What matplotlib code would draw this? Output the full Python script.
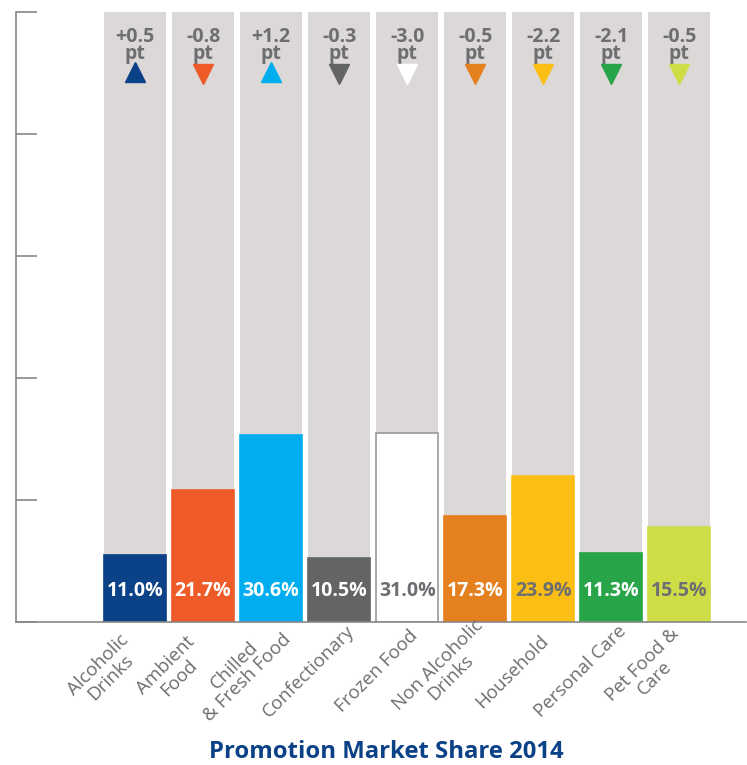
import matplotlib
matplotlib.use("Agg")
import matplotlib.pyplot as plt
import matplotlib.transforms as mtransforms

plt.rcParams['font.family'] = ['Open Sans', 'DejaVu Sans']

categories = ["Alcoholic\nDrinks", "Ambient\nFood", "Chilled\n& Fresh Food", "Confectionary",
              "Frozen Food", "Non Alcoholic\nDrinks", "Household", "Personal Care", "Pet Food &\nCare"]
shares = [11.0, 21.7, 30.6, 10.5, 31.0, 17.3, 23.9, 11.3, 15.5]
changes = [0.5, -0.8, 1.2, -0.3, -3.0, -0.5, -2.2, -2.1, -0.5]
bar_colors = ["#0b4187", "#ee5a28", "#00aeef", "#636466", "#ffffff",
              "#e5801f", "#fbbe14", "#28a449", "#cedc45"]
label_colors = ["white", "white", "white", "white", "#6d6e71",
                "white", "#6d6e71", "white", "#6d6e71"]
y_ticks = [0, 20, 40, 60, 80, 100]
title = "Promotion Market Share 2014"

GRAY_BG = "#dcd8d8"
TXT = "#6d6e71"

fig = plt.figure(figsize=(7.47, 7.65), dpi=100)
ax = fig.add_axes([16/747, 1-622/765, 730/747, 610/765])

x = list(range(len(categories)))
width = 0.91
ax.bar(x, [100]*len(x), width=width, color=GRAY_BG, zorder=1)
edge = ["#999999" if c == "#ffffff" else c for c in bar_colors]
ax.bar(x, shares, width=width, color=bar_colors, edgecolor=edge, linewidth=1.2, zorder=2)

trans = mtransforms.blended_transform_factory(ax.transData, ax.transAxes)
for i, (s, ch) in enumerate(zip(shares, changes)):
    ax.text(i, 0.051, f"{s:.1f}%", transform=trans, ha="center", va="center",
            fontsize=14, fontweight="bold", color=label_colors[i], zorder=3)
    sign = "+" if ch > 0 else "-"
    ax.text(i, 0.945, f"{sign}{abs(ch):.1f}\npt", transform=trans, ha="center", va="center",
            multialignment="center", linespacing=0.85,
            fontsize=14, fontweight="bold", color=TXT, zorder=3)
    marker = "^" if ch > 0 else "v"
    ym = 0.902 if ch > 0 else 0.898
    ax.plot([i], [ym], marker=marker, markersize=15, color=bar_colors[i],
            markeredgecolor=bar_colors[i], linestyle="none", transform=trans, zorder=3,
            clip_on=False)

for i, cat in enumerate(categories):
    ax.text(i - 0.45, -0.081, cat, transform=trans, rotation=45, rotation_mode="anchor",
            ha="center", va="center", multialignment="center", fontsize=13.5,
            color=TXT, linespacing=1.0)

ax.set_xlim(-1.75, 8.98)
ax.set_ylim(0, 100)
ax.set_xticks([])
ax.set_yticks(y_ticks)
ax.set_yticklabels([])
ax.tick_params(axis="y", direction="in", length=15, width=1.2, color="#888888")
for sp in ["top", "right"]:
    ax.spines[sp].set_visible(False)
for sp in ["left", "bottom"]:
    ax.spines[sp].set_color("#888888")
    ax.spines[sp].set_linewidth(1.2)

fig.text(386/747, 1-752/765, title, ha="center", va="center", fontsize=17.2,
         fontweight="bold", color="#0b4187")

fig.savefig("out.png", dpi=100)
